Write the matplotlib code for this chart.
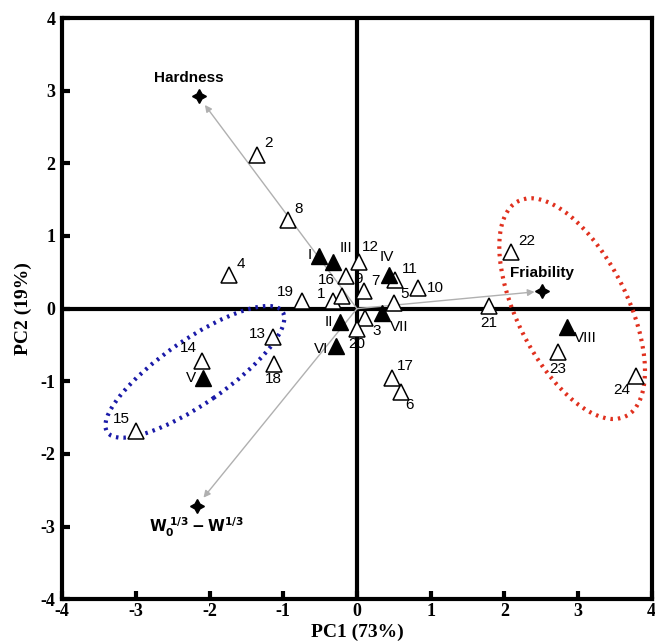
import matplotlib.pyplot as plt
from matplotlib.patches import Ellipse

plt.rcParams['axes.unicode_minus'] = False

# samples (open triangles)
samp_lab = ['1', '2', '3', '4', '5', '6', '7', '8', '9', '10', '11', '12',
            '13', '14', '15', '16', '17', '18', '19', '20', '21', '22', '23', '24']
samp_x = [-0.33, -1.35, 0.11, -1.73, 0.50, 0.60, 0.10, -0.94, -0.15, 0.83, 0.52, 0.03,
          -1.14, -2.10, -3.00, -0.20, 0.47, -1.13, -0.75, 0.00, 1.79, 2.09, 2.73, 3.78]
samp_y = [0.10, 2.12, -0.13, 0.46, 0.08, -1.15, 0.24, 1.22, 0.45, 0.28, 0.39, 0.64,
          -0.39, -0.72, -1.69, 0.17, -0.95, -0.76, 0.10, -0.28, 0.03, 0.78, -0.60, -0.93]

# groups (filled triangles)
grp_lab = ['I', 'II', 'III', 'IV', 'V', 'VI', 'VII', 'VIII']
grp_x = [-0.52, -0.23, -0.33, 0.44, -2.09, -0.29, 0.34, 2.85]
grp_y = [0.72, -0.19, 0.64, 0.46, -0.95, -0.52, -0.06, -0.25]

# variables (loadings)
var_lab = ['Hardness', 'Friability', r'$\mathbf{W_0^{\ 1/3}-W^{1/3}}$']
var_x = [-2.15, 2.51, -2.17]
var_y = [2.92, 0.24, -2.71]

# label offsets in points (dx, dy, ha, va)
samp_off = {
    '1': (-5, 5, 'right', 'center'), '2': (5, 3, 'left', 'bottom'),
    '3': (5, -4, 'left', 'top'), '4': (5, 3, 'left', 'bottom'),
    '5': (5, 1, 'left', 'bottom'), '6': (3, -4, 'left', 'top'),
    '7': (5, 2, 'left', 'bottom'), '8': (5, 3, 'left', 'bottom'),
    '9': (6, -2, 'left', 'center'), '10': (6, 0, 'left', 'center'),
    '11': (5, 3, 'left', 'bottom'), '12': (2, 6, 'left', 'bottom'),
    '13': (-5, 2, 'right', 'center'), '14': (-4, 4, 'right', 'bottom'),
    '15': (-4, 4, 'right', 'bottom'), '16': (-5, 7, 'right', 'bottom'),
    '17': (4, 3, 'left', 'bottom'), '18': (0, -6, 'center', 'top'),
    '19': (-6, 2, 'right', 'bottom'), '20': (0, -6, 'center', 'top'),
    '21': (0, -7, 'center', 'top'), '22': (5, 3, 'left', 'bottom'),
    '23': (0, -7, 'center', 'top'), '24': (-4, -5, 'right', 'top'),
}
grp_off = {
    'I': (-5, 1, 'right', 'center'), 'II': (-5, 0, 'right', 'center'),
    'III': (5, 5, 'left', 'bottom'), 'IV': (-2, 8, 'center', 'bottom'),
    'V': (-5, 0, 'right', 'center'), 'VI': (-5, -2, 'right', 'center'),
    'VII': (6, -5, 'left', 'top'), 'VIII': (5, -3, 'left', 'top'),
}
var_off = [(-7, 8, 'center', 'bottom'), (0, 8, 'center', 'bottom'), (0, -7, 'center', 'top')]

fig = plt.figure(figsize=(6.55, 6.43), dpi=100)
ax = fig.add_axes([0.095, 0.068, 0.9, 0.904])
ax.set_xlim(-4, 4)
ax.set_ylim(-4, 4)

ax.axhline(0, color='black', lw=3, zorder=1)
ax.axvline(0, color='black', lw=3, zorder=1)

for vx, vy in zip(var_x, var_y):
    ax.annotate('', xy=(vx * 0.96, vy * 0.96), xytext=(0, 0),
                arrowprops=dict(arrowstyle='-|>', color='#b0b0b0', lw=1,
                                mutation_scale=10, shrinkA=0, shrinkB=0), zorder=2)

ax.add_patch(Ellipse((-2.2, -0.87), 2.9, 0.88, angle=35, fill=False,
                     edgecolor='#1a1aa8', lw=3, linestyle=(0, (0.6, 1.2)), zorder=2))
ax.add_patch(Ellipse((2.92, 0.0), 3.3, 1.5, angle=-64, fill=False,
                     edgecolor='#e0301e', lw=3, linestyle=(0, (0.6, 1.2)), zorder=2))

ax.plot(samp_x, samp_y, linestyle='none', marker='^', ms=12, mfc='white',
        mec='black', mew=1.1, zorder=3)
ax.plot(grp_x, grp_y, linestyle='none', marker='^', ms=12, mfc='black',
        mec='black', zorder=4)
ax.plot(var_x, var_y, linestyle='none', marker=(4, 1, 0), ms=10, color='black', zorder=4)

lab_font = dict(family=['Liberation Sans', 'DejaVu Sans'], fontsize=11, color='black')
for lab, x, y in zip(samp_lab, samp_x, samp_y):
    dx, dy, ha, va = samp_off[lab]
    ax.annotate(lab, (x, y), xytext=(dx, dy), textcoords='offset points',
                ha=ha, va=va, zorder=5, **lab_font)
for lab, x, y in zip(grp_lab, grp_x, grp_y):
    dx, dy, ha, va = grp_off[lab]
    ax.annotate(lab, (x, y), xytext=(dx, dy), textcoords='offset points',
                ha=ha, va=va, zorder=5, **lab_font)
for lab, x, y, (dx, dy, ha, va) in zip(var_lab, var_x, var_y, var_off):
    ax.annotate(lab, (x, y), xytext=(dx, dy), textcoords='offset points',
                ha=ha, va=va, zorder=5, family=['Liberation Sans', 'DejaVu Sans'],
                fontsize=11, fontweight='bold')

for s in ax.spines.values():
    s.set_linewidth(3)
ax.set_xticks(range(-4, 5))
ax.set_yticks(range(-4, 5))
ax.tick_params(direction='in', length=6, width=3, pad=3)
ax.tick_params(axis='y', pad=5)
for t in ax.get_xticklabels() + ax.get_yticklabels():
    t.set_family('Liberation Serif')
    t.set_fontweight('bold')
    t.set_fontsize(13)
ax.set_xlabel('PC1 (73%)', family='Liberation Serif', fontweight='bold', fontsize=14, labelpad=2)
ax.set_ylabel('PC2 (19%)', family='Liberation Serif', fontweight='bold', fontsize=14, labelpad=6)

fig.savefig('out.png', dpi=100)
